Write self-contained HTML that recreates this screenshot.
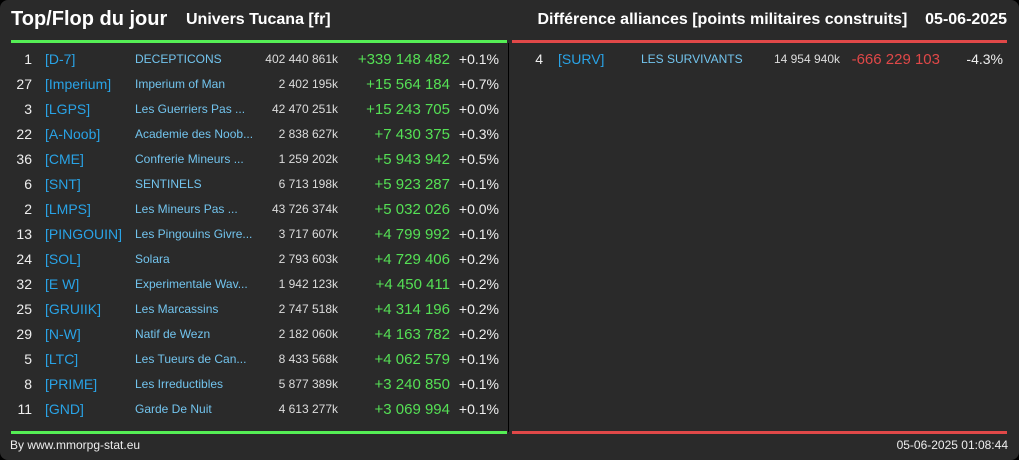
<!DOCTYPE html>
<html><head><meta charset="utf-8"><style>
html,body{margin:0;padding:0;background:#000;}
#c{position:relative;width:1019px;height:460px;background:#2a2a2a;border-radius:8px;overflow:hidden;font-family:"Liberation Sans",sans-serif;color:#eee;}
.t{position:absolute;white-space:nowrap;line-height:1;}
.r{text-align:right;}
</style></head><body>
<div id="c">
<div class="t" style="left:11px;top:9px;font-size:20px;font-weight:bold;color:#fff">Top/Flop du jour</div>
<div class="t" style="left:186px;top:12px;font-size:16px;font-weight:bold;color:#fff">Univers Tucana [fr]</div>
<div class="t r" style="right:12px;top:12px;font-size:16px;font-weight:bold;color:#fff">Différence alliances [points militaires construits]&nbsp;&nbsp;&nbsp;&nbsp;05-06-2025</div>
<div style="position:absolute;left:11px;top:40px;width:496px;height:3px;background:#55ee55"></div>
<div style="position:absolute;left:512px;top:40px;width:495px;height:3px;background:#e04848"></div>
<div style="position:absolute;left:508px;top:43px;width:1px;height:389px;background:#000"></div>
<div style="position:absolute;left:11px;top:431px;width:496px;height:3px;background:#55ee55"></div>
<div style="position:absolute;left:512px;top:431px;width:495px;height:3px;background:#e04848"></div>
<div class="t" style="left:10px;top:439px;font-size:12px;color:#eee">By www.mmorpg-stat.eu</div>
<div class="t r" style="right:11px;top:439px;font-size:12px;color:#eee">05-06-2025 01:08:44</div>
<div id="rows"></div>
</div>
<script>
const topRanks=["1","27","3","22","36","6","2","13","24","32","25","29","5","8","11"];
const topTags=["[D-7]","[Imperium]","[LGPS]","[A-Noob]","[CME]","[SNT]","[LMPS]","[PINGOUIN]","[SOL]","[E W]","[GRUIIK]","[N-W]","[LTC]","[PRIME]","[GND]"];
const topNames=["DECEPTICONS","Imperium of Man","Les Guerriers Pas ...","Academie des Noob...","Confrerie Mineurs ...","SENTINELS","Les Mineurs Pas ...","Les Pingouins Givre...","Solara","Experimentale Wav...","Les Marcassins","Natif de Wezn","Les Tueurs de Can...","Les Irreductibles","Garde De Nuit"];
const topValues=["402 440 861k","2 402 195k","42 470 251k","2 838 627k","1 259 202k","6 713 198k","43 726 374k","3 717 607k","2 793 603k","1 942 123k","2 747 518k","2 182 060k","8 433 568k","5 877 389k","4 613 277k"];
const topDiffs=["+339 148 482","+15 564 184","+15 243 705","+7 430 375","+5 943 942","+5 923 287","+5 032 026","+4 799 992","+4 729 406","+4 450 411","+4 314 196","+4 163 782","+4 062 579","+3 240 850","+3 069 994"];
const topPcts=["+0.1%","+0.7%","+0.0%","+0.3%","+0.5%","+0.1%","+0.0%","+0.1%","+0.2%","+0.2%","+0.2%","+0.2%","+0.1%","+0.1%","+0.1%"];
const flopRanks=["4"];
const flopTags=["[SURV]"];
const flopNames=["LES SURVIVANTS"];
const flopValues=["14 954 940k"];
const flopDiffs=["-666 229 103"];
const flopPcts=["-4.3%"];
const host=document.getElementById('rows');
function cell(txt,x,y,size,color,right,w){
  const d=document.createElement('div');
  d.className='t'+(right?' r':'');
  d.textContent=txt;
  d.style.top=(y-size/2-1)+'px';
  d.style.fontSize=size+'px';
  d.style.color=color;
  if(right){d.style.left=(x-w)+'px';d.style.width=w+'px';}else d.style.left=x+'px';
  host.appendChild(d);return d;
}
function drawRows(ranks,tags,names,values,diffs,pcts,o,diffColor,prefix){
  for(let i=0;i<ranks.length;i++){
    const y=60+i*25;
    let e;
    e=cell(ranks[i],o.rank,y,14,'#eee',true,40);
    
    
    e=cell(tags[i],o.tag,y,14,'#29a3e6',false);
    
    
    e=cell(names[i],o.name,y,12,'#72c4ee',false);
    
    
    e=cell(values[i],o.val,y,12,'#ddd',true,120);
    
    
    e=cell(diffs[i],o.diff,y,15,diffColor,true,120);
    
    
    e=cell(pcts[i],o.pct,y,14,'#eee',true,60);
    
    
  }
}
drawRows(topRanks,topTags,topNames,topValues,topDiffs,topPcts,{rank:32,tag:45,name:135,val:338,diff:450,pct:499},'#55e055','top');
drawRows(flopRanks,flopTags,flopNames,flopValues,flopDiffs,flopPcts,{rank:543,tag:558,name:641,val:840,diff:940,pct:1003},'#e04848','flop');
</script>
</body></html>
